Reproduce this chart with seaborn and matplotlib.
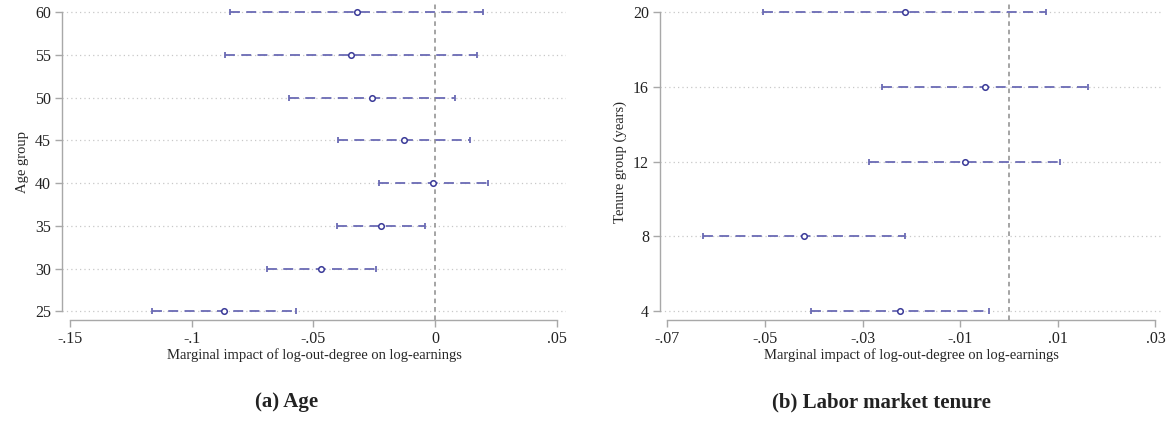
import numpy as np
import pandas as pd
import matplotlib
matplotlib.use("Agg")
import matplotlib.pyplot as plt
import seaborn as sns

# Marginal effects by age group
age_groups = [25, 30, 35, 40, 45, 50, 55, 60]
age_est = [-0.0867, -0.0469, -0.0223, -0.0008, -0.0128, -0.0260, -0.0346, -0.0321]
age_lo = [-0.1164, -0.0692, -0.0402, -0.0231, -0.0397, -0.0602, -0.0862, -0.0843]
age_hi = [-0.0573, -0.0245, -0.0042, 0.0215, 0.0141, 0.0080, 0.0172, 0.0197]
age_xticks = [-0.15, -0.10, -0.05, 0.0, 0.05]
age_xticklabels = ["-.15", "-.1", "-.05", "0", ".05"]

# Marginal effects by labor market tenure
tenure_groups = [4, 8, 12, 16, 20]
tenure_est = [-0.0223, -0.0419, -0.0090, -0.0049, -0.0213]
tenure_lo = [-0.0406, -0.0627, -0.0286, -0.0260, -0.0503]
tenure_hi = [-0.0041, -0.0212, 0.0105, 0.0162, 0.0076]
tenure_xticks = [-0.07, -0.05, -0.03, -0.01, 0.01, 0.03]
tenure_xticklabels = ["-.07", "-.05", "-.03", "-.01", ".01", ".03"]

xlabel = "Marginal impact of log-out-degree on log-earnings"

sns.set_theme(style="white")
plt.rcParams["font.family"] = ["Liberation Serif", "DejaVu Serif"]

LINE = "#6a6ab4"
EDGE = "#3a3a98"
GRID = "#c8c8c8"
SPINE = "#a8a8a8"

fig = plt.figure(figsize=(11.72, 4.30), dpi=100)
ax1 = fig.add_axes([62 / 1172, 110 / 430, 504 / 1172, 316 / 430])
ax2 = fig.add_axes([660 / 1172, 110 / 430, 503 / 1172, 316 / 430])


def draw_panel(ax, groups, est, lo, hi, xticks, xticklabels, xlim, ylim, ylabel):
    df = pd.DataFrame({"group": groups, "est": est, "lo": lo, "hi": hi})
    for g in groups:
        ax.axhline(g, color=GRID, lw=0.9, ls=(0, (1, 2.5)), zorder=0)
    ax.axvline(0, color="#8c8c8c", lw=1.1, ls=(0, (3, 2.5)), zorder=1)
    ax.hlines(df["group"], df["lo"], df["hi"], color=LINE, lw=1.3,
              linestyles=(0, (5.5, 3.5)), zorder=2)
    ends = pd.DataFrame({"x": list(df["lo"]) + list(df["hi"]),
                         "y": list(df["group"]) * 2})
    sns.scatterplot(data=ends, x="x", y="y", marker="|", s=14, color=LINE,
                    linewidth=1.3, ax=ax, zorder=3, legend=False)
    sns.scatterplot(data=df, x="est", y="group", marker="o", s=16,
                    facecolor="white", edgecolor=EDGE, linewidth=1.1,
                    ax=ax, zorder=4, legend=False)
    ax.set_xlim(*xlim)
    ax.set_ylim(*ylim)
    ax.set_xticks(xticks)
    ax.set_xticklabels(xticklabels)
    ax.set_yticks(groups)
    ax.set_yticklabels([str(g) for g in groups])
    ax.set_xlabel(xlabel, fontsize=10.5, labelpad=1)
    ax.set_ylabel(ylabel, fontsize=10.5, labelpad=4)
    for side in ["top", "right"]:
        ax.spines[side].set_visible(False)
    for side in ["left", "bottom"]:
        ax.spines[side].set_color(SPINE)
        ax.spines[side].set_linewidth(1.0)
    ax.spines["bottom"].set_bounds(xticks[0], xticks[-1])
    ax.spines["left"].set_bounds(groups[0], groups[-1])
    ax.tick_params(axis="both", which="major", length=5, width=1.0,
                   color=SPINE, labelsize=11.5, pad=3, labelcolor="#222222",
                   bottom=True, left=True)


draw_panel(ax1, age_groups, age_est, age_lo, age_hi, age_xticks,
           age_xticklabels, (-0.1532, 0.0537), (23.98, 60.94), "Age group")
draw_panel(ax2, tenure_groups, tenure_est, tenure_lo, tenure_hi, tenure_xticks,
           tenure_xticklabels, (-0.07148, 0.03154), (3.535, 20.43),
           "Tenure group (years)")

fig.text(287 / 1172, 1 - 402 / 430, "(a) Age", ha="center", va="center",
         fontsize=15, fontweight="bold", color="#222222")
fig.text(881 / 1172, 1 - 402 / 430, "(b) Labor market tenure", ha="center",
         va="center", fontsize=15, fontweight="bold", color="#222222")

fig.savefig("out.png", dpi=100)
